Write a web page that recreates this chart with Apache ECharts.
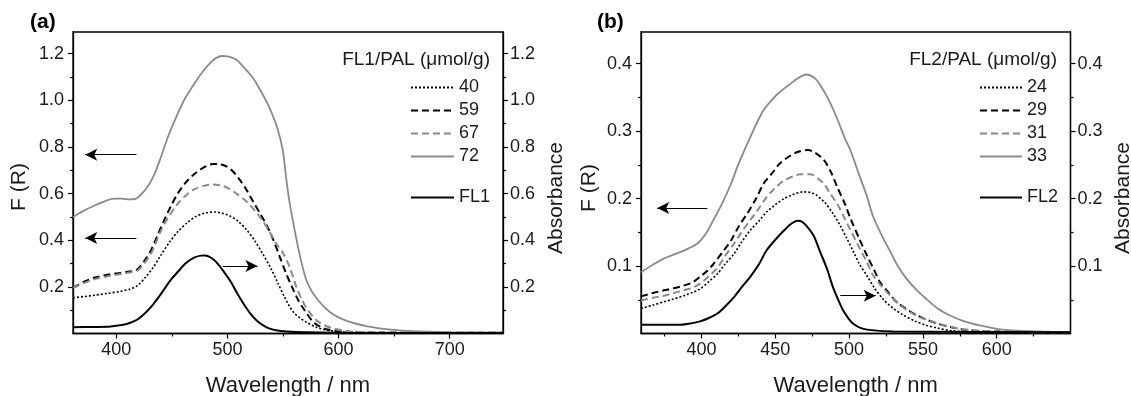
<!DOCTYPE html>
<html>
<head>
<meta charset="utf-8">
<script src="https://cdn.jsdelivr.net/npm/echarts@6/dist/echarts.min.js"></script>
<style>
html,body{margin:0;padding:0;background:#fff;}
#c{width:1131px;height:396px;}
</style>
</head>
<body>
<div id="c"></div>
<script>
// ---------- Panel (a) data ----------
const a_wl_72 = [361,370,380,390,398,405,412,417,422,428,434,440,447,455,462,470,478,485,490,495,500,508,515,523,530,538,545,550,553,556,560,566,572,581,593,608,626,647,667,700,748];
const a_F_72  = [0.50,0.525,0.548,0.568,0.578,0.578,0.575,0.577,0.595,0.628,0.68,0.755,0.85,0.94,1.01,1.07,1.125,1.163,1.182,1.19,1.188,1.174,1.14,1.096,1.04,0.967,0.88,0.78,0.66,0.56,0.455,0.317,0.217,0.146,0.089,0.053,0.031,0.017,0.010,0.006,0.004];
const a_wl_59 = [361,370,380,392,404,412,419,425,431,437,443,449,455,462,470,478,487,493,499,505,511,517,523,530,535,541,547,553,559,564,569,578,590,605,630,748];
const a_F_59  = [0.196,0.22,0.239,0.252,0.26,0.266,0.275,0.31,0.355,0.42,0.485,0.545,0.598,0.645,0.683,0.71,0.727,0.726,0.717,0.695,0.66,0.617,0.567,0.51,0.467,0.405,0.33,0.255,0.19,0.14,0.103,0.046,0.017,0.007,0.004,0.003];
const a_wl_67 = [361,370,380,392,404,412,419,425,432,440,447,455,462,470,478,487,494,500,508,517,525,532,538,544,550,556,562,567,572,581,593,610,640,748];
const a_F_67  = [0.196,0.215,0.232,0.245,0.255,0.262,0.27,0.30,0.35,0.44,0.50,0.555,0.59,0.618,0.632,0.639,0.635,0.625,0.60,0.567,0.525,0.481,0.435,0.385,0.345,0.285,0.20,0.145,0.103,0.053,0.025,0.010,0.005,0.003];
const a_wl_40 = [361,370,380,392,404,412,419,426,433,440,448,456,464,472,480,489,496,503,510,517,525,532,539,545,551,556,560,566,572,580,587,600,630,748];
const a_F_40  = [0.153,0.158,0.164,0.172,0.181,0.19,0.205,0.24,0.282,0.335,0.393,0.44,0.476,0.503,0.517,0.521,0.515,0.502,0.48,0.446,0.395,0.34,0.28,0.22,0.16,0.115,0.089,0.064,0.046,0.027,0.017,0.008,0.004,0.003];
const a_wl_FL1 = [361,380,395,405,412,419,426,433,441,448,456,463,470,476,480,485,490,496,503,509,515,521,527,533,538,545,553,570,600,748];
const a_A_FL1  = [0.027,0.028,0.030,0.036,0.045,0.06,0.088,0.124,0.175,0.224,0.268,0.303,0.325,0.334,0.335,0.326,0.306,0.27,0.222,0.17,0.124,0.083,0.053,0.033,0.021,0.013,0.009,0.005,0.003,0.002];

// ---------- Panel (b) data ----------
const b_wl_33 = [359,367,374.5,380,386,392,397,403,408,414,420,425,431,437,442,448,453,459,465,471,476,480,486,492,497,501,507,512,516,522,528,533,539,546,552.5,560,568,578,588.5,600,611,630,650];
const b_F_33  = [0.091,0.102,0.111,0.116,0.121,0.127,0.133,0.148,0.168,0.193,0.222,0.251,0.281,0.31,0.331,0.347,0.358,0.368,0.378,0.384,0.38,0.37,0.347,0.318,0.29,0.271,0.234,0.204,0.175,0.146,0.121,0.10,0.081,0.064,0.051,0.037,0.027,0.018,0.012,0.007,0.0045,0.003,0.002];
const b_wl_29 = [359,367,374.5,381,388,394,399,404,408,414,420,425,431,437,442,448,453,459,465,472,477,483,488,492,497,501,507,512,517,521,527,532,539,546,553,561,570,580,600,650];
const b_F_29  = [0.055,0.06,0.064,0.067,0.071,0.076,0.084,0.093,0.103,0.12,0.138,0.158,0.178,0.20,0.222,0.238,0.252,0.262,0.269,0.272,0.268,0.257,0.238,0.217,0.193,0.17,0.14,0.116,0.094,0.076,0.06,0.047,0.036,0.027,0.02,0.014,0.009,0.005,0.003,0.002];
const b_wl_31 = [359,367,374.5,381,388,394,399,405,411,416,422,427,433,439,444,450,456,462,467,474,478,483,487,492,496,501,507,512,516,522,528,534,541,549,557,566,575,590,620,650];
const b_F_31  = [0.049,0.053,0.056,0.06,0.064,0.068,0.074,0.085,0.098,0.115,0.133,0.15,0.168,0.186,0.202,0.216,0.227,0.233,0.236,0.236,0.231,0.222,0.208,0.192,0.175,0.153,0.127,0.106,0.087,0.07,0.056,0.043,0.032,0.023,0.017,0.011,0.007,0.004,0.002,0.002];
const b_wl_24 = [359,367,374.5,381,388,394,399,405,411,416,422,427,433,439,444,450,456,462,469,474,478,484,489,494,498,503,507,512,517,523,530,537,545,552.5,560,570,590,650];
const b_F_24  = [0.037,0.042,0.047,0.051,0.056,0.061,0.066,0.077,0.089,0.103,0.118,0.135,0.153,0.167,0.18,0.191,0.20,0.206,0.21,0.209,0.205,0.193,0.178,0.16,0.143,0.121,0.103,0.086,0.068,0.051,0.037,0.027,0.018,0.012,0.008,0.004,0.002,0.002];
const b_wl_FL2 = [359,375,386,393,399,405,411,416,422,427,433,439,444,450,456,461,465,468,471,476,480,485,489,493,496,500,503,508,515,530,650];
const b_A_FL2  = [0.013,0.013,0.013,0.015,0.018,0.023,0.03,0.04,0.054,0.068,0.084,0.103,0.123,0.139,0.153,0.163,0.167,0.166,0.16,0.145,0.123,0.096,0.069,0.048,0.034,0.021,0.014,0.008,0.005,0.003,0.002];

// ---------- Ticks / labels ----------
const a_xMajor = [400,500,600,700];
const a_xMinor = [450,550,650];
const a_yMajor = [0.2,0.4,0.6,0.8,1.0,1.2];
const a_yMinor = [0.1,0.3,0.5,0.7,0.9,1.1];
const b_xMajor = [400,450,500,550,600];
const b_xMinor = [375,425,475,525,575,625];
const b_yMajor = [0.1,0.2,0.3,0.4];
const b_yMinor = [0.05,0.15,0.25,0.35];

// Arrows [from, to] in data coords
const a_arrows = [[[418,0.767],[372,0.767]],[[418,0.41],[372,0.41]],[[496,0.29],[527,0.29]]];
const b_arrows = [[[404,0.186],[370,0.186]],[[494,0.056],[518,0.056]]];

const FONT = 'Liberation Sans, Arial, sans-serif';
const GRAY = '#8a8a8a';
const INK = '#1a1a1a';

function zip(x, y){ return x.map((v,i)=>[v,y[i]]); }
function ser(name, x, y, xi, yi, color, width, type){
  return {name, type:'line', xAxisIndex:xi, yAxisIndex:yi, data:zip(x,y),
    symbol:'none', smooth:0.3, silent:true,
    lineStyle:{color, width, type, cap:'butt'}, itemStyle:{color}};
}
function arrowsLine(arr){
  return {symbol:['none','arrow'], symbolSize:[9,12], silent:true, animation:false,
    label:{show:false}, lineStyle:{color:'#000', width:1, type:'solid'},
    emphasis:{disabled:true},
    data: arr.map(p=>[{coord:p[0]},{coord:p[1]}])};
}
function xMajor(gi, min, max, vals){
  return {gridIndex:gi, type:'value', min, max, position:'bottom',
    axisLine:{show:true, lineStyle:{color:'#000', width:1.3}},
    axisTick:{show:true, customValues:vals, length:5, lineStyle:{color:'#000', width:1.2}},
    axisLabel:{customValues:vals, fontSize:18, color:INK, fontFamily:FONT, margin:8},
    splitLine:{show:false},
    name:'Wavelength / nm', nameLocation:'middle', nameGap:41,
    nameTextStyle:{fontSize:22, color:INK, fontFamily:FONT}};
}
function xMinor(gi, min, max, vals){
  return {gridIndex:gi, type:'value', min, max, position:'bottom',
    axisLine:{show:false}, axisLabel:{show:false}, splitLine:{show:false},
    axisTick:{show:true, customValues:vals, length:3, lineStyle:{color:'#000', width:1.2}}};
}
function yMajor(gi, max, vals, pos){
  return {gridIndex:gi, type:'value', min:0, max, position:pos,
    axisLine:{show:true, lineStyle:{color:'#000', width:1.3}},
    axisTick:{show:true, customValues:vals, length:5, lineStyle:{color:'#000', width:1.2}},
    axisLabel:{customValues:vals, formatter:v=>v.toFixed(1), fontSize:18, color:INK, fontFamily:FONT, margin: pos==='left'?9:7},
    splitLine:{show:false}};
}
function yMinor(gi, max, vals, pos){
  return {gridIndex:gi, type:'value', min:0, max, position:pos,
    axisLine:{show:false}, axisLabel:{show:false}, splitLine:{show:false},
    axisTick:{show:true, customValues:vals, length:3, lineStyle:{color:'#000', width:1.2}}};
}
function legend(names, left, top, w){
  return {data:names, orient:'vertical', left, top, itemWidth:w, itemHeight:14, itemGap:5,
    selectedMode:false, itemStyle:{opacity:0, borderWidth:0, color:'rgba(0,0,0,0)'},
    textStyle:{fontSize:18, color:INK, fontFamily:FONT}};
}

const chart = echarts.init(document.getElementById('c'), null, {renderer:'canvas'});
const A_MAX = 1.293, B_MAX = 0.447;
const option = {
  animation:false,
  backgroundColor:'#fff',
  textStyle:{fontFamily:FONT},
  grid:[
    {left:73, top:32, width:430, height:301.5, outerBoundsMode:'none', containLabel:false, show:true, borderColor:'#000', borderWidth:1.3, backgroundColor:'transparent'},
    {left:641, top:32, width:429.5, height:301.5, outerBoundsMode:'none', containLabel:false, show:true, borderColor:'#000', borderWidth:1.3, backgroundColor:'transparent'}
  ],
  xAxis:[
    xMajor(0,361,748,a_xMajor), xMinor(0,361,748,a_xMinor),
    xMajor(1,359,650,b_xMajor), xMinor(1,359,650,b_xMinor)
  ],
  yAxis:[
    yMajor(0,A_MAX,a_yMajor,'left'), yMinor(0,A_MAX,a_yMinor,'left'),
    yMajor(0,A_MAX,a_yMajor,'right'), yMinor(0,A_MAX,a_yMinor,'right'),
    yMajor(1,B_MAX,b_yMajor,'left'), yMinor(1,B_MAX,b_yMinor,'left'),
    yMajor(1,B_MAX,b_yMajor,'right'), yMinor(1,B_MAX,b_yMinor,'right')
  ],
  legend:[
    legend(['40','59','67','72'], 405, 73.5, 43),
    legend(['FL1'], 405, 183.5, 43),
    legend(['24','29','31','33'], 974, 73.5, 42),
    legend(['FL2'], 974, 183.5, 42)
  ],
  graphic:[
    {type:'text', left:30, top:12, style:{text:'(a)', font:'bold 21px '+FONT, fill:'#000'}},
    {type:'text', left:597, top:12, style:{text:'(b)', font:'bold 21px '+FONT, fill:'#000'}},
    {type:'text', x:490, y:60, style:{text:'FL1/PAL (μmol/g)', font:'19px '+FONT, fill:INK, align:'right', verticalAlign:'middle'}},
    {type:'text', x:1057, y:60, style:{text:'FL2/PAL (μmol/g)', font:'19px '+FONT, fill:INK, align:'right', verticalAlign:'middle'}},
    {type:'text', x:19, y:187, rotation:Math.PI/2, style:{text:'F (R)', font:'21px '+FONT, fill:INK, align:'center', verticalAlign:'middle'}},
    {type:'text', x:556, y:198, rotation:Math.PI/2, style:{text:'Absorbance', font:'21px '+FONT, fill:INK, align:'center', verticalAlign:'middle'}},
    {type:'text', x:589, y:188, rotation:Math.PI/2, style:{text:'F (R)', font:'21px '+FONT, fill:INK, align:'center', verticalAlign:'middle'}},
    {type:'text', x:1123, y:198, rotation:Math.PI/2, style:{text:'Absorbance', font:'21px '+FONT, fill:INK, align:'center', verticalAlign:'middle'}}
  ],
  series:[
    Object.assign(ser('40', a_wl_40, a_F_40, 0, 0, '#000', 1.6, [2,2]), {markLine: arrowsLine(a_arrows)}),
    ser('59', a_wl_59, a_F_59, 0, 0, '#000', 2, [7,4]),
    ser('67', a_wl_67, a_F_67, 0, 0, GRAY, 2, [7,4]),
    ser('72', a_wl_72, a_F_72, 0, 0, GRAY, 1.8, 'solid'),
    ser('FL1', a_wl_FL1, a_A_FL1, 0, 2, '#000', 2, 'solid'),
    Object.assign(ser('24', b_wl_24, b_F_24, 2, 4, '#000', 1.6, [2,2]), {markLine: arrowsLine(b_arrows)}),
    ser('29', b_wl_29, b_F_29, 2, 4, '#000', 2, [7,4]),
    ser('31', b_wl_31, b_F_31, 2, 4, GRAY, 2, [7,4]),
    ser('33', b_wl_33, b_F_33, 2, 4, GRAY, 1.8, 'solid'),
    ser('FL2', b_wl_FL2, b_A_FL2, 2, 6, '#000', 2, 'solid')
  ]
};
chart.setOption(option);
</script>
</body>
</html>
